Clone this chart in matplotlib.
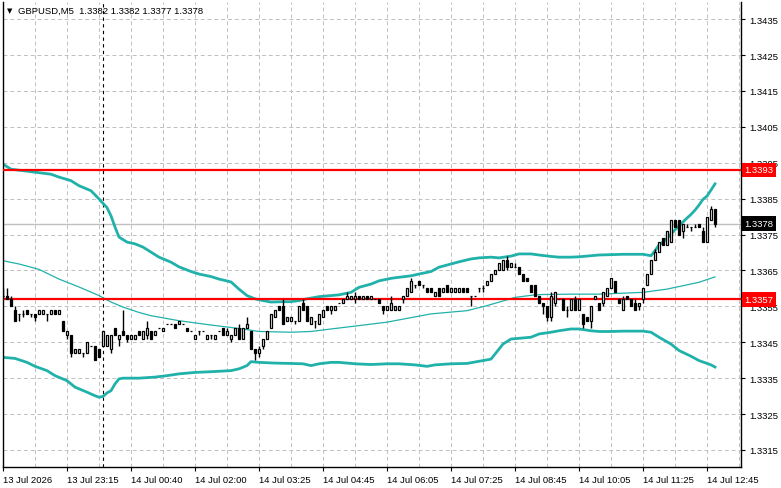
import matplotlib.pyplot as plt

plt.rcParams['font.family'] = ['Liberation Sans', 'DejaVu Sans']

# ---------------- data (GBPUSD M5, bar index 0 = 13 Jul 21:55) ----------------
opens = [
    1.3358, 1.3358, 1.3357, 1.3354, 1.3353, 1.3353, 1.3354, 1.3353, 1.3353, 1.3353,
    1.3353, 1.3353, 1.3353, 1.3354, 1.3353, 1.3351, 1.3347, 1.3347, 1.3342, 1.3342,
    1.3342, 1.3342, 1.3344, 1.3344, 1.3343, 1.3344, 1.3344, 1.3343, 1.3349, 1.3346,
    1.3348, 1.3347, 1.3346, 1.3346, 1.3348, 1.3346, 1.3347, 1.3348, 1.3347, 1.3349,
    1.3348, 1.3350, 1.3350, 1.3350, 1.3350, 1.3350, 1.3349, 1.3348, 1.3346, 1.3348,
    1.3348, 1.3346, 1.3347, 1.3346, 1.3348, 1.3349, 1.3347, 1.3346, 1.3347, 1.3349,
    1.3346, 1.3349, 1.3348, 1.3343, 1.3342, 1.3344, 1.3346, 1.3349, 1.3352, 1.3355,
    1.3355, 1.3351, 1.3351, 1.3351, 1.3351, 1.3356, 1.3355, 1.3350, 1.3351, 1.3350,
    1.3352, 1.3355, 1.3354, 1.3354, 1.3356, 1.3356, 1.3357, 1.3357, 1.3357, 1.3358,
    1.3357, 1.3358, 1.3357, 1.3357, 1.3357, 1.3355, 1.3354, 1.3354, 1.3354, 1.3354,
    1.3357, 1.3358, 1.3359, 1.3361, 1.3362, 1.3361, 1.3360, 1.3360, 1.3358, 1.3360,
    1.3359, 1.3361, 1.3359, 1.3359, 1.3359, 1.3360, 1.3360, 1.3358, 1.3358, 1.3360,
    1.3360, 1.3361, 1.3362, 1.3364, 1.3365, 1.3365, 1.3368, 1.3366, 1.3366, 1.3366,
    1.3364, 1.3363, 1.3361, 1.3361, 1.3358, 1.3356, 1.3355, 1.3352, 1.3356, 1.3357,
    1.3357, 1.3354, 1.3354, 1.3357, 1.3354, 1.3353, 1.3352, 1.3351, 1.3357, 1.3356,
    1.3356, 1.3358, 1.3360, 1.3362, 1.3357, 1.3354, 1.3358, 1.3357, 1.3356, 1.3355,
    1.3357, 1.3361, 1.3364, 1.3368, 1.3370, 1.3374, 1.3372, 1.3373, 1.3379, 1.3379,
    1.3376, 1.3377, 1.3377, 1.3377, 1.3378, 1.3376, 1.3373, 1.3379, 1.3382,
]
highs = [
    1.3360, 1.3360, 1.3358, 1.3355, 1.3353, 1.3354, 1.3354, 1.3353, 1.3353, 1.3354,
    1.3354, 1.3353, 1.3354, 1.3354, 1.3354, 1.3351, 1.3348, 1.3347, 1.3343, 1.3343,
    1.3342, 1.3345, 1.3344, 1.3344, 1.3343, 1.3348, 1.3347, 1.3347, 1.3349, 1.3347,
    1.3354, 1.3347, 1.3347, 1.3347, 1.3348, 1.3348, 1.3351, 1.3348, 1.3348, 1.3349,
    1.3349, 1.3350, 1.3350, 1.3350, 1.3351, 1.3350, 1.3349, 1.3348, 1.3347, 1.3348,
    1.3348, 1.3347, 1.3347, 1.3347, 1.3348, 1.3349, 1.3349, 1.3347, 1.3349, 1.3350,
    1.3349, 1.3352, 1.3348, 1.3343, 1.3344, 1.3346, 1.3348, 1.3353, 1.3354, 1.3355,
    1.3357, 1.3352, 1.3352, 1.3351, 1.3355, 1.3357, 1.3355, 1.3352, 1.3351, 1.3353,
    1.3354, 1.3355, 1.3355, 1.3355, 1.3356, 1.3357, 1.3359, 1.3358, 1.3359, 1.3358,
    1.3358, 1.3358, 1.3358, 1.3357, 1.3357, 1.3355, 1.3355, 1.3358, 1.3355, 1.3355,
    1.3358, 1.3360, 1.3363, 1.3361, 1.3362, 1.3361, 1.3360, 1.3360, 1.3359, 1.3360,
    1.3360, 1.3361, 1.3360, 1.3360, 1.3360, 1.3360, 1.3360, 1.3358, 1.3358, 1.3360,
    1.3361, 1.3362, 1.3364, 1.3365, 1.3367, 1.3368, 1.3369, 1.3367, 1.3367, 1.3366,
    1.3364, 1.3363, 1.3361, 1.3361, 1.3358, 1.3356, 1.3355, 1.3359, 1.3359, 1.3357,
    1.3357, 1.3355, 1.3357, 1.3358, 1.3357, 1.3353, 1.3352, 1.3355, 1.3358, 1.3356,
    1.3359, 1.3360, 1.3363, 1.3362, 1.3357, 1.3358, 1.3358, 1.3357, 1.3357, 1.3356,
    1.3360, 1.3364, 1.3368, 1.3371, 1.3373, 1.3374, 1.3376, 1.3379, 1.3379, 1.3379,
    1.3378, 1.3378, 1.3377, 1.3378, 1.3378, 1.3377, 1.3380, 1.3383, 1.3382,
]
lows = [
    1.3357, 1.3357, 1.3355, 1.3351, 1.3351, 1.3352, 1.3353, 1.3352, 1.3351, 1.3353,
    1.3353, 1.3351, 1.3353, 1.3353, 1.3353, 1.3348, 1.3346, 1.3341, 1.3342, 1.3342,
    1.3341, 1.3342, 1.3344, 1.3340, 1.3341, 1.3344, 1.3344, 1.3342, 1.3347, 1.3344,
    1.3347, 1.3345, 1.3346, 1.3346, 1.3347, 1.3346, 1.3346, 1.3346, 1.3347, 1.3349,
    1.3348, 1.3350, 1.3350, 1.3349, 1.3350, 1.3350, 1.3348, 1.3348, 1.3346, 1.3347,
    1.3348, 1.3346, 1.3346, 1.3346, 1.3348, 1.3347, 1.3347, 1.3345, 1.3347, 1.3346,
    1.3346, 1.3349, 1.3343, 1.3340, 1.3341, 1.3343, 1.3346, 1.3349, 1.3352, 1.3354,
    1.3350, 1.3351, 1.3351, 1.3350, 1.3351, 1.3354, 1.3351, 1.3350, 1.3349, 1.3350,
    1.3352, 1.3354, 1.3353, 1.3354, 1.3356, 1.3356, 1.3357, 1.3357, 1.3356, 1.3357,
    1.3357, 1.3357, 1.3357, 1.3357, 1.3356, 1.3353, 1.3354, 1.3354, 1.3354, 1.3354,
    1.3356, 1.3358, 1.3359, 1.3360, 1.3361, 1.3360, 1.3359, 1.3359, 1.3358, 1.3358,
    1.3359, 1.3359, 1.3359, 1.3359, 1.3359, 1.3359, 1.3359, 1.3355, 1.3358, 1.3359,
    1.3359, 1.3361, 1.3362, 1.3364, 1.3365, 1.3365, 1.3365, 1.3366, 1.3366, 1.3364,
    1.3362, 1.3362, 1.3359, 1.3358, 1.3356, 1.3353, 1.3351, 1.3351, 1.3355, 1.3357,
    1.3354, 1.3352, 1.3354, 1.3354, 1.3354, 1.3349, 1.3351, 1.3349, 1.3357, 1.3354,
    1.3355, 1.3358, 1.3360, 1.3359, 1.3356, 1.3354, 1.3357, 1.3355, 1.3354, 1.3354,
    1.3356, 1.3361, 1.3364, 1.3368, 1.3370, 1.3372, 1.3372, 1.3373, 1.3377, 1.3375,
    1.3374, 1.3377, 1.3376, 1.3377, 1.3377, 1.3373, 1.3373, 1.3379, 1.3377,
]
closes = [
    1.3358, 1.3357, 1.3355, 1.3351, 1.3353, 1.3353, 1.3353, 1.3353, 1.3352, 1.3354,
    1.3354, 1.3353, 1.3354, 1.3353, 1.3354, 1.3348, 1.3348, 1.3342, 1.3343, 1.3343,
    1.3342, 1.3345, 1.3344, 1.3340, 1.3341, 1.3348, 1.3347, 1.3347, 1.3347, 1.3347,
    1.3347, 1.3346, 1.3347, 1.3347, 1.3347, 1.3348, 1.3349, 1.3346, 1.3348, 1.3349,
    1.3349, 1.3350, 1.3350, 1.3349, 1.3351, 1.3350, 1.3348, 1.3348, 1.3347, 1.3348,
    1.3348, 1.3347, 1.3347, 1.3347, 1.3348, 1.3347, 1.3348, 1.3347, 1.3349, 1.3346,
    1.3349, 1.3350, 1.3343, 1.3342, 1.3343, 1.3346, 1.3348, 1.3353, 1.3354, 1.3354,
    1.3350, 1.3352, 1.3352, 1.3351, 1.3355, 1.3354, 1.3351, 1.3352, 1.3351, 1.3353,
    1.3354, 1.3354, 1.3355, 1.3355, 1.3356, 1.3357, 1.3358, 1.3358, 1.3358, 1.3357,
    1.3358, 1.3357, 1.3358, 1.3357, 1.3356, 1.3354, 1.3355, 1.3356, 1.3355, 1.3355,
    1.3358, 1.3360, 1.3362, 1.3361, 1.3361, 1.3361, 1.3359, 1.3359, 1.3359, 1.3358,
    1.3360, 1.3359, 1.3360, 1.3360, 1.3360, 1.3359, 1.3359, 1.3358, 1.3358, 1.3360,
    1.3360, 1.3362, 1.3364, 1.3365, 1.3367, 1.3368, 1.3366, 1.3367, 1.3366, 1.3364,
    1.3362, 1.3362, 1.3359, 1.3358, 1.3356, 1.3355, 1.3352, 1.3358, 1.3359, 1.3357,
    1.3354, 1.3354, 1.3357, 1.3354, 1.3357, 1.3350, 1.3351, 1.3355, 1.3358, 1.3354,
    1.3359, 1.3360, 1.3363, 1.3359, 1.3356, 1.3357, 1.3357, 1.3355, 1.3354, 1.3356,
    1.3360, 1.3364, 1.3368, 1.3370, 1.3373, 1.3372, 1.3376, 1.3379, 1.3377, 1.3375,
    1.3378, 1.3377, 1.3377, 1.3377, 1.3377, 1.3373, 1.3380, 1.3382, 1.3378,
]

# Bollinger bands, read at selected bars
upper_bars = [0, 2, 7, 12, 14, 17, 19, 22, 24, 26, 27, 28, 29, 31, 33, 35, 37, 39,
              42, 44, 47, 49, 52, 54, 57, 59, 61, 63, 65, 67, 70, 72, 74, 76, 79,
              82, 84, 87, 89, 92, 94, 97, 99, 102, 104, 107, 109, 112, 114, 117,
              119, 122, 124, 127, 129, 132, 134, 137, 139, 142, 144, 147, 149, 152,
              155, 157, 160, 162, 163, 164, 165, 166, 167, 168, 169, 170, 171, 172,
              173, 174, 175, 176, 177, 178]
upper_vals = [1.33946, 1.33932, 1.33925, 1.33918, 1.33910, 1.33900, 1.33886, 1.33872,
              1.33849, 1.33825, 1.33802, 1.33771, 1.33743, 1.33729, 1.33724, 1.33715,
              1.33701, 1.33687, 1.33673, 1.33660, 1.33647, 1.33640, 1.33633, 1.33626,
              1.33618, 1.33598, 1.33580, 1.33571, 1.33566, 1.33562, 1.33563, 1.33563,
              1.33566, 1.33571, 1.33577, 1.33580, 1.33582, 1.33589, 1.33603, 1.33612,
              1.33621, 1.33628, 1.33631, 1.33635, 1.33640, 1.33647, 1.33659, 1.33668,
              1.33674, 1.33682, 1.33685, 1.33687, 1.33685, 1.33690, 1.33696, 1.33696,
              1.33693, 1.33689, 1.33687, 1.33687, 1.33688, 1.33691, 1.33693, 1.33694,
              1.33695, 1.33695, 1.33695, 1.33691, 1.33705, 1.33721, 1.33729, 1.33740,
              1.33751, 1.33763, 1.33774, 1.33785, 1.33796, 1.33806, 1.33818, 1.33832,
              1.33848, 1.33857, 1.33874, 1.33891]

middle_bars = [0, 4, 9, 14, 19, 24, 27, 30, 34, 37, 44, 52, 60, 64, 72, 77, 82, 88,
               96, 107, 112, 116, 121, 125, 128, 133, 135, 142, 149, 160, 166, 174, 178]
middle_vals = [1.33677, 1.33668, 1.33653, 1.33626, 1.33604, 1.33580, 1.33562, 1.33548,
               1.33533, 1.33524, 1.33510, 1.33498, 1.33487, 1.33480, 1.33478, 1.33480,
               1.33487, 1.33495, 1.33506, 1.33529, 1.33534, 1.33538, 1.33552, 1.33565,
               1.33575, 1.33582, 1.33583, 1.33584, 1.33584, 1.33589, 1.33598, 1.33617,
               1.33632]

lower_bars = [0, 3, 6, 8, 11, 13, 16, 18, 21, 23, 24, 25, 26, 27, 28, 29, 30, 34, 38,
              41, 44, 48, 52, 57, 59, 61, 62, 64, 68, 72, 75, 77, 79, 82, 84, 88, 92,
              96, 99, 103, 106, 108, 112, 116, 119, 122, 123, 124, 125, 127, 129, 132,
              134, 137, 139, 142, 144, 147, 149, 152, 155, 160, 162, 164, 167, 169,
              172, 174, 177, 178]
lower_vals = [1.33408, 1.33405, 1.33394, 1.33383, 1.33371, 1.33357, 1.33343, 1.33325,
              1.33311, 1.33301, 1.33297, 1.33299, 1.33309, 1.33315, 1.33334, 1.33348,
              1.33350, 1.33350, 1.33353, 1.33357, 1.33362, 1.33366, 1.33368, 1.33371,
              1.33376, 1.33385, 1.33396, 1.33394, 1.33392, 1.33391, 1.33390, 1.33385,
              1.33390, 1.33394, 1.33394, 1.33390, 1.33388, 1.33390, 1.33390, 1.33387,
              1.33383, 1.33387, 1.33390, 1.33391, 1.33397, 1.33403, 1.33417, 1.33431,
              1.33445, 1.33459, 1.33461, 1.33464, 1.33473, 1.33478, 1.33482, 1.33487,
              1.33487, 1.33482, 1.33480, 1.33480, 1.33481, 1.33481, 1.33478, 1.33464,
              1.33445, 1.33427, 1.33411, 1.33399, 1.33387, 1.33381]

level_lines = [1.3393, 1.3357]
bid = 1.3378
day_separator = 25

price_ticks = [1.3315, 1.3325, 1.3335, 1.3345, 1.3355, 1.3365, 1.3375,
               1.3385, 1.3395, 1.3405, 1.3415, 1.3425, 1.3435]
time_ticks = [0, 16, 32, 48, 64, 80, 96, 112, 128, 144, 160, 176]
time_labels = ['13 Jul 2026', '13 Jul 23:15', '14 Jul 00:40', '14 Jul 02:00',
               '14 Jul 03:25', '14 Jul 04:45', '14 Jul 06:05', '14 Jul 07:25',
               '14 Jul 08:45', '14 Jul 10:05', '14 Jul 11:25', '14 Jul 12:45']

header = 'GBPUSD,M5  1.3382 1.3382 1.3377 1.3378'

# ---------------- figure ----------------
W, H = 781, 489
fig = plt.figure(figsize=(W / 100, H / 100), dpi=100)
ax = fig.add_axes([2.5 / W, (H - 467.5) / H, 738 / W, 465 / H])
ax.set_xlim(-0.125, 184.375)
ax.set_ylim(1.33104, 1.34399)

grid_col = '#c0c0c0'
for p in price_ticks:
    ax.axhline(p, color=grid_col, lw=0.7, ls=(0, (4, 3)), zorder=0)
for i in range(8, 185, 8):
    ax.axvline(i, color=grid_col, lw=0.7, ls=(0, (4, 3)), zorder=0)

ax.axhline(bid, color='#c0c0c0', lw=1.0, zorder=1)
ax.axvline(day_separator, color='black', lw=0.8, ls=(0, (3, 3)), zorder=1)

band_col = '#20b2aa'
ax.plot(upper_bars, upper_vals, color=band_col, lw=2.0, zorder=2)
ax.plot(lower_bars, lower_vals, color=band_col, lw=2.0, zorder=2)
ax.plot(middle_bars, middle_vals, color=band_col, lw=0.9, zorder=2)

for lv in level_lines:
    ax.axhline(lv, color='red', lw=1.6, zorder=3)

# candles
idx = list(range(len(closes)))
ax.vlines(idx, lows, highs, color='black', lw=1.0, zorder=4)
for i in idx:
    o, c = opens[i], closes[i]
    fc = 'white' if c >= o else 'black'
    ax.bar(i, abs(c - o), bottom=min(o, c), width=0.6, color=fc,
           edgecolor='black', linewidth=0.9, zorder=5)

# axes and ticks
ax.spines['top'].set_visible(False)
for s in ['left', 'right', 'bottom']:
    ax.spines[s].set_linewidth(1.0)
ax.yaxis.tick_right()
ax.set_yticks(price_ticks)
ax.set_yticklabels(['%.4f' % p for p in price_ticks])
ax.set_xticks(time_ticks)
ax.set_xticklabels(time_labels)
for lbl in ax.get_xticklabels():
    lbl.set_horizontalalignment('left')
ax.tick_params(axis='y', length=3, width=0.8, pad=3, labelsize=6.8)
ax.tick_params(axis='x', length=3, width=0.8, pad=3, labelsize=6.8)

# right-hand price labels
ytr = ax.get_yaxis_transform()
for lv in level_lines:
    ax.text(1.0055, lv, '%.4f' % lv, transform=ytr, ha='left', va='center',
            color='white', fontsize=6.8, zorder=10, clip_on=False,
            bbox=dict(boxstyle='square,pad=0.3', fc='red', ec='none'))
ax.text(1.0055, bid, '%.4f' % bid, transform=ytr, ha='left', va='center',
        color='white', fontsize=6.8, zorder=10, clip_on=False,
        bbox=dict(boxstyle='square,pad=0.3', fc='black', ec='none'))

# header
fig.text(7 / W, 1 - 11 / H, '▼', fontsize=5, va='center', family='DejaVu Sans')
fig.text(18 / W, 1 - 11 / H, header, fontsize=6.8, va='center')

fig.savefig('out.png', dpi=100)
